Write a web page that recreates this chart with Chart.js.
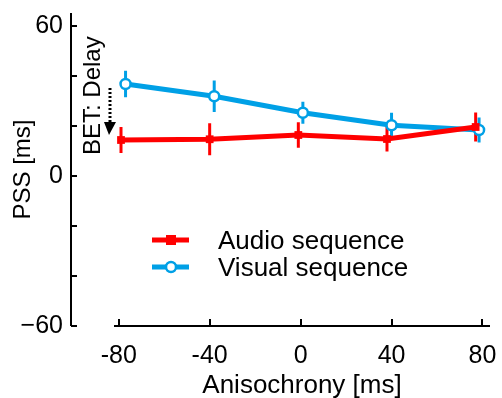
<!DOCTYPE html>
<html>
<head>
<meta charset="utf-8">
<script src="https://cdn.jsdelivr.net/npm/chart.js@4"></script>
<style>
  html, body { margin: 0; padding: 0; background: #fff; }
  #wrap { width: 502px; height: 398px; }
</style>
</head>
<body>
<div id="wrap"><canvas id="pssChart"></canvas></div>
<script>
// PSS per anisochrony condition (ms), mean and error
const audioX = [-79, -40, -1, 38, 77];
const audioY = [14.4, 14.7, 16.4, 14.8, 19.6];
const audioErr = [5.2, 6.4, 5.1, 5.0, 5.8];
const visualX = [-77, -38, 1, 40, 78.5];
const visualY = [36.8, 31.9, 25.3, 20.3, 18.4];
const visualErr = [5.3, 6.3, 4.4, 5.0, 5.0];

const xTicks = [-80, -40, 0, 40, 80];
const yTicks = [-60, -40, -20, 0, 20, 40, 60];
const yLabels = [-60, 0, 60];

const RED = '#ff0000';
const BLUE = '#00a0e6';
const FONT = '"Liberation Sans", Arial, sans-serif';
const Y_AXIS_GAP = 43; // y axis sits left of the plot area

function toPoints(xs, ys) {
    return xs.map((x, i) => ({ x: x, y: ys[i] }));
}

// vertical error bars, drawn under the lines and markers
const errorBars = {
    id: 'errorBars',
    beforeDatasetsDraw(chart) {
        const ctx = chart.ctx;
        const xs = chart.scales.x, ys = chart.scales.y;
        const sets = [[visualX, visualY, visualErr, BLUE], [audioX, audioY, audioErr, RED]];
        ctx.save();
        ctx.lineWidth = 3;
        sets.forEach(([xv, yv, ev, col]) => {
            ctx.strokeStyle = col;
            xv.forEach((x, i) => {
                const px = xs.getPixelForValue(x);
                ctx.beginPath();
                ctx.moveTo(px, ys.getPixelForValue(yv[i] - ev[i]));
                ctx.lineTo(px, ys.getPixelForValue(yv[i] + ev[i]));
                ctx.stroke();
            });
        });
        ctx.restore();
    }
};

// detached axes with inward ticks, legend and the annotation
const decorations = {
    id: 'decorations',
    afterDraw(chart) {
        const ctx = chart.ctx;
        const area = chart.chartArea;
        const xs = chart.scales.x, ys = chart.scales.y;
        const ax = area.left - Y_AXIS_GAP;
        ctx.save();
        ctx.strokeStyle = '#000';
        ctx.lineWidth = 2;
        ctx.beginPath();
        ctx.moveTo(ax, area.top);
        ctx.lineTo(ax, area.bottom);
        yTicks.forEach(v => {
            const py = Math.round(ys.getPixelForValue(v));
            ctx.moveTo(ax, py);
            ctx.lineTo(ax + 6, py);
        });
        ctx.moveTo(area.left, area.bottom);
        ctx.lineTo(area.right, area.bottom);
        xTicks.forEach(v => {
            const px = Math.round(xs.getPixelForValue(v));
            ctx.moveTo(px, area.bottom);
            ctx.lineTo(px, area.bottom - 7);
        });
        ctx.stroke();

        // legend
        const items = [['Audio sequence', RED, 'rect'], ['Visual sequence', BLUE, 'circle']];
        items.forEach(([label, col, shape], i) => {
            const cy = 240 + i * 27;
            ctx.strokeStyle = col;
            ctx.lineWidth = 5;
            ctx.beginPath();
            ctx.moveTo(152, cy);
            ctx.lineTo(189, cy);
            ctx.stroke();
            if (shape === 'rect') {
                ctx.fillStyle = col;
                ctx.fillRect(166, cy - 5, 10, 10);
            } else {
                ctx.fillStyle = '#fff';
                ctx.lineWidth = 2.5;
                ctx.beginPath();
                ctx.arc(171, cy, 5, 0, Math.PI * 2);
                ctx.fill();
                ctx.stroke();
            }
            ctx.fillStyle = '#000';
            ctx.font = '26px ' + FONT;
            ctx.textAlign = 'left';
            ctx.textBaseline = 'alphabetic';
            ctx.fillText(label, 218, cy + 9);
        });

        // "BET: Delay" note with dotted arrow
        ctx.save();
        ctx.translate(100, 155);
        ctx.rotate(-Math.PI / 2);
        ctx.fillStyle = '#000';
        ctx.font = '24px ' + FONT;
        ctx.textAlign = 'left';
        ctx.textBaseline = 'alphabetic';
        ctx.fillText('BET: Delay', 0, 0);
        ctx.restore();

        ctx.strokeStyle = '#000';
        ctx.lineWidth = 3;
        ctx.setLineDash([2, 2]);
        ctx.beginPath();
        ctx.moveTo(110, 88);
        ctx.lineTo(110, 124);
        ctx.stroke();
        ctx.setLineDash([]);
        ctx.fillStyle = '#000';
        ctx.beginPath();
        ctx.moveTo(104, 122);
        ctx.lineTo(116, 122);
        ctx.lineTo(109, 135);
        ctx.closePath();
        ctx.fill();
        ctx.restore();
    }
};

document.addEventListener('DOMContentLoaded', () => {
    new Chart(document.getElementById('pssChart'), {
        type: 'line',
        data: {
            datasets: [{
                label: 'Audio sequence',
                data: toPoints(audioX, audioY),
                borderColor: RED,
                backgroundColor: RED,
                borderWidth: 5,
                pointStyle: 'rect',
                pointRadius: 5.5,
                pointBorderWidth: 0,
                pointBackgroundColor: RED
            }, {
                label: 'Visual sequence',
                data: toPoints(visualX, visualY),
                borderColor: BLUE,
                backgroundColor: '#fff',
                borderWidth: 5,
                pointStyle: 'circle',
                pointRadius: 5,
                pointBorderWidth: 2.5,
                pointBorderColor: BLUE,
                pointBackgroundColor: '#fff'
            }]
        },
        options: {
            responsive: true,
            maintainAspectRatio: false,
            animation: false,
            layout: { padding: { top: 13, right: 12, left: 0, bottom: 0 } },
            plugins: {
                legend: { display: false },
                tooltip: { enabled: false }
            },
            scales: {
                x: {
                    type: 'linear',
                    min: -82.08,
                    max: 83.31,
                    afterBuildTicks: s => { s.ticks = xTicks.map(v => ({ value: v })); },
                    afterFit: s => { s.height = 72; s.paddingLeft = 0; s.paddingRight = 0; },
                    grid: { display: false, drawTicks: false },
                    border: { display: false },
                    ticks: {
                        color: '#000',
                        padding: 15,
                        font: { family: FONT, size: 25 },
                        callback: v => String(v)
                    },
                    title: {
                        display: true,
                        text: 'Anisochrony [ms]',
                        color: '#000',
                        font: { family: FONT, size: 26 },
                        padding: { top: 0, bottom: -3 }
                    }
                },
                y: {
                    type: 'linear',
                    min: -60,
                    max: 65.2,
                    afterBuildTicks: s => { s.ticks = yTicks.map(v => ({ value: v })); },
                    afterFit: s => { s.width = 114; s.paddingTop = 0; s.paddingBottom = 0; },
                    grid: { display: false, drawTicks: false },
                    border: { display: false },
                    ticks: {
                        color: '#000',
                        padding: 51,
                        font: { family: FONT, size: 25 },
                        callback: v => yLabels.includes(v) ? String(v).replace('-', '\u2212') : ''
                    },
                    title: {
                        display: true,
                        text: 'PSS [ms]',
                        color: '#000',
                        font: { family: FONT, size: 24 },
                        padding: { top: 9, bottom: 0 }
                    }
                }
            }
        },
        plugins: [errorBars, decorations]
    });
});
</script>
</body>
</html>
